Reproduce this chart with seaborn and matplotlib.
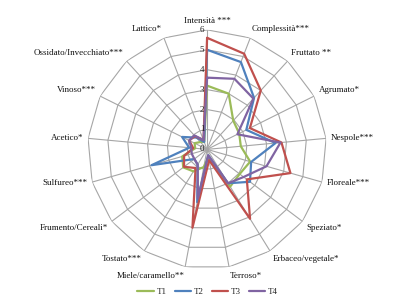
import numpy as np
import pandas as pd
import matplotlib
matplotlib.use("Agg")
import matplotlib.pyplot as plt
import matplotlib.transforms as mtransforms
import seaborn as sns

categories = ["Intensità ***", "Complessità***", "Fruttato **", "Agrumato*", "Nespole***",
              "Floreale***", "Speziato*", "Erbaceo/vegetale*", "Terroso*", "Miele/caramello**",
              "Tostato***", "Frumento/Cereali*", "Sulfureo***", "Acetico*", "Vinoso***",
              "Ossidato/Invecchiato***", "Lattico*"]
T1 = [3.2, 3.0, 1.95, 1.8, 1.7, 2.25, 2.05, 2.2, 0.4, 0.9, 1.3, 1.5, 1.3, 0.6, 0.7, 0.5, 0.4]
T2 = [5.0, 4.7, 3.5, 2.2, 3.45, 2.3, 2.7, 2.0, 0.3, 2.7, 0.9, 0.8, 2.9, 0.9, 1.4, 0.8, 0.4]
T3 = [5.6, 5.15, 4.0, 2.4, 3.75, 4.35, 2.5, 4.1, 0.55, 4.0, 1.1, 1.45, 1.2, 0.7, 1.0, 0.9, 0.5]
T4 = [3.6, 3.8, 3.45, 1.7, 3.7, 3.1, 2.3, 2.0, 0.3, 2.5, 0.9, 0.8, 0.8, 0.8, 1.0, 0.95, 0.5]
series_names = ["T1", "T2", "T3", "T4"]
radial_ticks = [0, 1, 2, 3, 4, 5, 6]

colors = {"T1": "#9bbb59", "T2": "#4f81bd", "T3": "#c0504d", "T4": "#8064a2"}

sns.set_style("white")
plt.rcParams["font.family"] = ["Liberation Serif", "DejaVu Serif"]

n = len(categories)
angles = np.arange(n) * 2 * np.pi / n

rows = []
for name, vals in zip(series_names, [T1, T2, T3, T4]):
    for i in range(n + 1):
        rows.append({"angle": angles[i % n] if i < n else 2 * np.pi,
                     "value": vals[i % n], "series": name, "order": i})
df = pd.DataFrame(rows)

fig = plt.figure(figsize=(4.15, 3.03), dpi=100)
ax = fig.add_axes([0.211, 0.112, 0.576, 0.79], projection="polar")
ax.set_theta_zero_location("N")
ax.set_theta_direction(-1)
ax.set_ylim(0, 6)
ax.grid(False)
ax.spines["polar"].set_visible(False)
ax.set_xticks([])
ax.set_yticks([])

# polygon grid
grid_c = "#a6a6a6"
closed = np.append(angles, angles[0])
for r in radial_ticks[1:]:
    ax.plot(closed, [r] * (n + 1), color=grid_c, lw=0.8, zorder=1)
for a in angles:
    ax.plot([a, a], [0, 6], color=grid_c, lw=0.8, zorder=1)

sns.lineplot(data=df, x="angle", y="value", hue="series", palette=colors,
             sort=False, estimator=None, units="series", lw=1.6, ax=ax, zorder=3)

ax.set_xlabel("")
ax.set_ylabel("")

# radial tick labels
off = mtransforms.offset_copy(ax.transData, fig=fig, x=-2, y=0, units="points")
for r in radial_ticks:
    ax.text(0, r, str(r), transform=off, ha="right", va="center", fontsize=6.5, color="#222222", zorder=4)

# category labels
for a, lab in zip(angles, categories):
    s, c = np.sin(a), np.cos(a)
    ha = "left" if s > 0.1 else ("right" if s < -0.1 else "center")
    va = "bottom" if c > 0.3 else ("top" if c < -0.3 else "center")
    ax.text(a, 6.25, lab, ha=ha, va=va, fontsize=6.5, color="#111111")

leg = ax.legend(loc="center", bbox_to_anchor=(0.5, 0.036), bbox_transform=fig.transFigure,
                ncol=4, frameon=False, fontsize=6.5, handlelength=1.8, columnspacing=0.9,
                handletextpad=0.3)

fig.savefig("out.png", dpi=100)
